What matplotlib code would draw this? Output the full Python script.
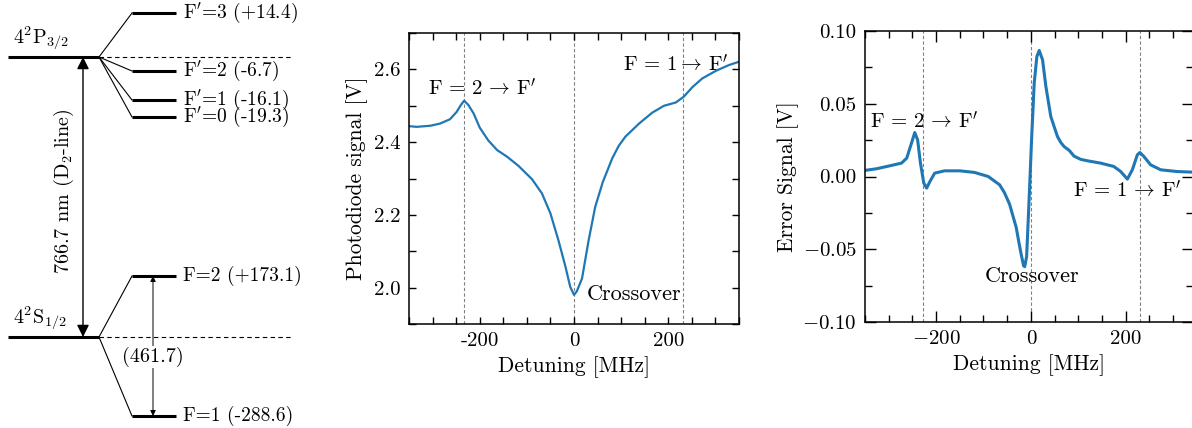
import matplotlib
matplotlib.use("Agg")
import matplotlib.pyplot as plt
from matplotlib.ticker import MultipleLocator

plt.rcParams['font.family'] = ['cmr10', 'DejaVu Serif']
plt.rcParams['mathtext.fontset'] = 'cm'
plt.rcParams['axes.unicode_minus'] = False
plt.rcParams['font.size'] = 15

# --- level scheme (schematic positions, pixel units of the left panel)
upper_labels = ["F$'$=3 (+14.4)", "F$'$=2 (-6.7)", "F$'$=1 (-16.1)", "F$'$=0 (-19.3)"]
upper_y = [13, 71, 100, 117]
lower_labels = ["F=2 (+173.1)", "F=1 (-288.6)"]
lower_y = [276, 416]
p_y = 57
s_y = 337

# --- photodiode signal (middle)
pd_x = [-350, -334, -305, -284, -263, -249, -240, -233, -224, -213, -200, -182, -163,
        -142, -118, -89, -68, -50, -33, -18, -8, 0, 6, 17, 31, 45, 61, 81, 95, 109,
        138, 166, 191, 216, 233, 251, 272, 301, 329, 350]
pd_y = [2.444, 2.442, 2.445, 2.451, 2.463, 2.483, 2.502, 2.514, 2.502, 2.479, 2.440,
        2.405, 2.378, 2.360, 2.335, 2.298, 2.259, 2.204, 2.130, 2.057, 2.002, 1.980,
        1.990, 2.025, 2.130, 2.222, 2.290, 2.355, 2.390, 2.415, 2.451, 2.481, 2.500,
        2.509, 2.525, 2.551, 2.575, 2.596, 2.612, 2.621]
pd_lines = [-233, 0, 231]

# --- error signal (right)
err_x = [-350, -326, -297, -273, -262, -253, -245, -239, -233, -226, -220, -213, -203,
         -189, -182, -150, -119, -90, -66, -56, -45, -38, -31, -26, -21, -15.4, -13, -9,
         -3.5, 1.4, 7, 12.6, 17.5, 24.6, 31.6, 42, 56, 63, 70, 81, 91, 105, 119, 147,
         175, 189.5, 203.5, 214, 224.6, 230, 238.5, 252.6, 274, 309, 342]
err_y = [0.0042, 0.0053, 0.0074, 0.0092, 0.0126, 0.0218, 0.0302, 0.0252, 0.0092, -0.0045,
         -0.0080, -0.0034, 0.0023, 0.0034, 0.0039, 0.0039, 0.0028, 0.0000, -0.0057,
         -0.0110, -0.0190, -0.0270, -0.0350, -0.0440, -0.0527, -0.0614, -0.0620, -0.0550,
         -0.0137, 0.0252, 0.0642, 0.0825, 0.0866, 0.0802, 0.0619, 0.0412, 0.0275, 0.0234,
         0.0206, 0.0179, 0.0140, 0.0118, 0.0108, 0.0092, 0.0069, 0.0034, -0.0018, 0.0046,
         0.0149, 0.0165, 0.0137, 0.0080, 0.0046, 0.0034, 0.0030]
err_lines = [-228, 0, 230]

lab_f2 = r'F = 2$\,\rightarrow\,$F$^\prime$'
lab_f1_tight = r'F = 1$\rightarrow\,$F$^\prime$'
lab_f1 = r'F = 1$\,\rightarrow\,$F$^\prime$'

fig = plt.figure(figsize=(11.92, 4.28), dpi=100)

# ---------- left: energy level diagram
ax0 = fig.add_axes([0, 0, 300 / 1192, 1])
ax0.set_xlim(0, 300)
ax0.set_ylim(428, 0)
ax0.axis('off')

for y0 in [p_y, s_y]:
    ax0.plot([8, 99], [y0, y0], color='k', lw=2.2, solid_capstyle='butt')
    ax0.plot([99, 292], [y0, y0], color='k', lw=0.8, ls=(0, (4, 3)))
for y, lab in zip(upper_y, upper_labels):
    ax0.plot([99, 132], [p_y, y], color='k', lw=0.8)
    ax0.plot([132, 176], [y, y], color='k', lw=2.2, solid_capstyle='butt')
    ax0.text(183, y, lab, va='center', ha='left', fontsize=14)
for y, lab in zip(lower_y, lower_labels):
    ax0.plot([99, 132], [s_y, y], color='k', lw=0.8)
    ax0.plot([132, 176], [y, y], color='k', lw=2.2, solid_capstyle='butt')
    ax0.text(183, y, lab, va='center', ha='left', fontsize=14)

ax0.text(13, p_y - 5, r'4$^2$P$_{3/2}$', ha='left', va='bottom', fontsize=14.5)
ax0.text(13, s_y - 5, r'4$^2$S$_{1/2}$', ha='left', va='bottom', fontsize=14.5)
ax0.annotate('', xy=(83, p_y), xytext=(83, s_y),
             arrowprops=dict(arrowstyle='<|-|>', color='k', lw=1.0,
                             mutation_scale=18, shrinkA=0, shrinkB=0))
ax0.text(64, 191, r'766.7 nm (D$_2$-line)', rotation=90, ha='center', va='center',
         fontsize=14.5)
ax0.annotate('', xy=(153, lower_y[0]), xytext=(153, lower_y[1]),
             arrowprops=dict(arrowstyle='<|-|>', color='k', lw=0.7,
                             mutation_scale=8, shrinkA=0, shrinkB=0))
ax0.text(153, 357, '(461.7)', ha='center', va='center', fontsize=14.5,
         bbox=dict(facecolor='white', edgecolor='none', pad=1))


def style(ax):
    ax.tick_params(which='both', direction='in', top=True, right=True,
                   length=5, width=1.0)
    ax.tick_params(which='major', labelsize=15, pad=6)
    for s in ax.spines.values():
        s.set_linewidth(1.1)


# ---------- middle: photodiode signal
ax1 = fig.add_axes([409 / 1192, 104 / 428, 330 / 1192, 291 / 428])
ax1.plot(pd_x, pd_y, color='#1f77b4', lw=1.6)
for xv in pd_lines:
    ax1.axvline(xv, color='gray', lw=0.8, ls=(0, (3, 2)), zorder=0)
ax1.set_xlim(-350, 350)
ax1.set_ylim(1.9, 2.7)
ax1.set_xticks([-200, 0, 200])
ax1.set_xticklabels(['-200', '0', '200'])
ax1.xaxis.set_minor_locator(MultipleLocator(50))
ax1.set_yticks([2.0, 2.2, 2.4, 2.6])
ax1.set_yticklabels(['2.0', '2.2', '2.4', '2.6'])
ax1.yaxis.set_minor_locator(MultipleLocator(0.1))
style(ax1)
ax1.set_xlabel('Detuning [MHz]', fontsize=15.5)
ax1.set_ylabel('Photodiode signal [V]', fontsize=15.5)
ax1.text(-195, 2.548, lab_f2, ha='center', va='center', fontsize=15)
ax1.text(215, 2.612, lab_f1_tight, ha='center', va='center', fontsize=15)
ax1.text(127, 1.983, 'Crossover', ha='center', va='center', fontsize=16)

# ---------- right: error signal
ax2 = fig.add_axes([865 / 1192, 106 / 428, 328 / 1192, 291 / 428])
ax2.plot(err_x, err_y, color='#1f77b4', lw=2.2)
for xv in err_lines:
    ax2.axvline(xv, color='gray', lw=0.8, ls=(0, (3, 2)), zorder=0)
ax2.set_xlim(-350, 342)
ax2.set_ylim(-0.1, 0.1)
ax2.set_xticks([-200, 0, 200])
ax2.set_xticklabels([r'$-200$', '0', '200'])
ax2.xaxis.set_minor_locator(MultipleLocator(50))
ax2.set_yticks([-0.1, -0.05, 0.0, 0.05, 0.1])
ax2.set_yticklabels([r'$-0.10$', r'$-0.05$', '0.00', '0.05', '0.10'])
ax2.yaxis.set_minor_locator(MultipleLocator(0.025))
style(ax2)
ax2.tick_params(which='major', length=8)
ax2.set_xlabel('Detuning [MHz]', fontsize=15.5)
ax2.set_ylabel('Error Signal [V]', fontsize=15.5, labelpad=2)
ax2.text(-225, 0.0378, lab_f2, ha='center', va='center', fontsize=15)
ax2.text(204, -0.0096, lab_f1, ha='center', va='center', fontsize=15)
ax2.text(2, -0.0686, 'Crossover', ha='center', va='center', fontsize=16)

fig.savefig('out.png', dpi=100)
